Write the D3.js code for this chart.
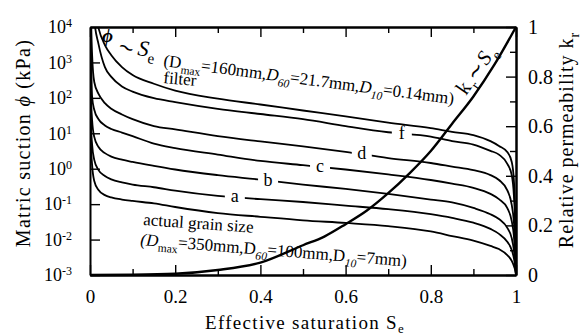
<!DOCTYPE html>
<html>
<head>
<meta charset="utf-8">
<script src="https://cdn.jsdelivr.net/npm/d3@7"></script>
<style>
  body { margin: 0; background: #fff; }
</style>
</head>
<body>
<div id="container"></div>
<script>
const width = 583;
const height = 336;
const plotLeft = 90, plotRight = 516, plotTop = 27, plotBottom = 275;
const serif = "'Liberation Serif', 'Times New Roman', Times, serif";

// effective saturation grid shared by the suction curves
const seGrid = [0.0005, 0.002, 0.005, 0.01, 0.02, 0.035, 0.05, 0.075, 0.1, 0.15, 0.2, 0.3, 0.4, 0.5, 0.6, 0.7, 0.8, 0.85, 0.9, 0.94, 0.96, 0.98, 0.99, 0.995, 0.998, 1.0];

// matric suction (kPa)
const phiFilter = [1e10, 1e8, 1.6e6, 4.0e4, 9.3e3, 3.1e3, 1.6e3, 740, 440, 250, 160, 95, 65, 44, 30, 20, 14, 11, 8.9, 6.0, 4.4, 2.9, 1.55, 0.48, 0.049, 0.001];
const phiF = [1e9, 1e7, 1.1e5, 1.6e4, 3.3e3, 740, 390, 210, 150, 98, 76, 49, 35, 25, 16, 10.7, 8.1, 6.0, 4.8, 3.2, 2.5, 1.35, 0.66, 0.18, 0.026, 0.001];
const phiD = [1e7, 5.8e4, 1.6e3, 280, 130, 71, 49, 34, 25, 16, 12.9, 8.3, 5.9, 4.3, 3.0, 2.0, 1.45, 1.15, 0.91, 0.66, 0.48, 0.24, 0.095, 0.032, 0.0071, 0.001];
const phiC = [1e6, 8.3e3, 105, 46, 25, 16.6, 13.2, 10.5, 8.3, 5.1, 3.8, 2.5, 1.66, 1.26, 0.95, 0.69, 0.48, 0.38, 0.29, 0.195, 0.138, 0.076, 0.033, 0.0126, 0.0036, 0.001];
const phiB = [1e5, 166, 23, 7.9, 4.1, 2.75, 2.2, 1.8, 1.55, 1.2, 0.95, 0.66, 0.49, 0.355, 0.27, 0.195, 0.135, 0.112, 0.078, 0.052, 0.038, 0.021, 0.011, 0.0051, 0.0023, 0.001];
const phiA = [1e5, 23, 4.7, 1.78, 0.91, 0.62, 0.50, 0.41, 0.355, 0.30, 0.24, 0.17, 0.138, 0.115, 0.091, 0.072, 0.052, 0.041, 0.030, 0.020, 0.0145, 0.0085, 0.0051, 0.003, 0.0018, 0.001];
const phiActual = [1e5, 6.5, 1.26, 0.45, 0.25, 0.18, 0.155, 0.135, 0.123, 0.105, 0.083, 0.056, 0.044, 0.035, 0.0295, 0.024, 0.017, 0.0126, 0.0093, 0.0066, 0.0054, 0.0036, 0.0025, 0.0018, 0.00138, 0.001];

// relative permeability curve
const seKr = [0, 0.1, 0.2, 0.3, 0.4, 0.5, 0.55, 0.6, 0.65, 0.7, 0.75, 0.8, 0.85, 0.9, 0.95, 1.0];
const kr = [0, 0.001, 0.005, 0.02, 0.05, 0.12, 0.155, 0.205, 0.26, 0.33, 0.41, 0.50, 0.61, 0.72, 0.85, 1.0];

// curve labels
const labelNames = ["f", "d", "c", "b", "a"];
const labelSe = [0.732, 0.638, 0.540, 0.418, 0.340];
const labelPhi = [9.8, 2.6, 1.12, 0.46, 0.155];

// ticks
const xTicks = [0, 0.2, 0.4, 0.6, 0.8, 1];
const xTickLabels = ["0", "0.2", "0.4", "0.6", "0.8", "1"];
const xMinor = [0.1, 0.3, 0.5, 0.7, 0.9];
const yTicks = [1e-3, 1e-2, 1e-1, 1e0, 1e1, 1e2, 1e3, 1e4];
const yTickExp = ["-3", "-2", "-1", "0", "1", "2", "3", "4"];
const krTicks = [0, 0.2, 0.4, 0.6, 0.8, 1];
const krTickLabels = ["0", "0.2", "0.4", "0.6", "0.8", "1"];
const krMinor = [0.1, 0.3, 0.5, 0.7, 0.9];

const svg = d3.select("#container")
  .append("svg")
  .attr("width", width)
  .attr("height", height)
  .style("font-family", serif);

const x = d3.scaleLinear().domain([0, 1]).range([plotLeft, plotRight]);
const y = d3.scaleLog().domain([1e-3, 1e4]).range([plotBottom, plotTop]);
const yk = d3.scaleLinear().domain([0, 1]).range([plotBottom, plotTop]);

svg.append("clipPath").attr("id", "plot")
  .append("rect")
  .attr("x", plotLeft).attr("y", plotTop)
  .attr("width", plotRight - plotLeft).attr("height", plotBottom - plotTop);

// suction curves
const curves = [phiFilter, phiF, phiD, phiC, phiB, phiA, phiActual];
const line = d3.line()
  .x(d => x(d[0]))
  .y(d => y(d[1]))
  .curve(d3.curveMonotoneX);

svg.append("g").attr("clip-path", "url(#plot)")
  .selectAll("path")
  .data(curves)
  .enter()
  .append("path")
  .attr("d", c => line(seGrid.map((s, i) => [s, c[i]])))
  .attr("fill", "none")
  .attr("stroke", "#000")
  .attr("stroke-width", 1.8);

// curve labels with a gap in the line
const lab = svg.append("g").selectAll("g")
  .data(labelNames)
  .enter()
  .append("g")
  .attr("transform", (d, i) => `translate(${x(labelSe[i])},${y(labelPhi[i])})`);
lab.append("rect")
  .attr("x", -10).attr("y", -5)
  .attr("width", 20).attr("height", 10)
  .attr("fill", "#fff");
lab.append("text")
  .attr("text-anchor", "middle")
  .attr("y", 5)
  .style("font-family", serif)
  .style("font-size", "18px")
  .text(d => d);

// kr curve
const krLine = d3.line()
  .x((d, i) => x(seKr[i]))
  .y(d => yk(d))
  .curve(d3.curveMonotoneX);
svg.append("path")
  .attr("d", krLine(kr))
  .attr("fill", "none")
  .attr("stroke", "#000")
  .attr("stroke-width", 2.4);

// axes
function styleAxis(g, fs) {
  g.attr("font-family", serif);
  g.select(".domain").attr("stroke-width", 2);
  g.selectAll(".tick line").attr("stroke-width", 1.4);
  g.selectAll(".tick text").style("font-size", fs + "px").style("font-family", serif);
}

svg.append("g")
  .attr("transform", `translate(0,${plotBottom})`)
  .call(d3.axisBottom(x).tickValues(xMinor).tickSize(-6).tickSizeOuter(0).tickFormat(""))
  .call(g => styleAxis(g, 19));
svg.append("g")
  .attr("transform", `translate(0,${plotBottom})`)
  .call(d3.axisBottom(x).tickValues(xTicks).tickSize(-10).tickSizeOuter(0).tickPadding(15)
    .tickFormat((d, i) => xTickLabels[i]))
  .call(g => styleAxis(g, 19));

svg.append("g")
  .attr("transform", `translate(0,${plotTop})`)
  .call(d3.axisTop(x).tickValues(xMinor).tickSize(-6).tickSizeOuter(0).tickFormat(""))
  .call(g => styleAxis(g, 19));
svg.append("g")
  .attr("transform", `translate(0,${plotTop})`)
  .call(d3.axisTop(x).tickValues(xTicks).tickSize(-10).tickSizeOuter(0).tickFormat(""))
  .call(g => styleAxis(g, 19));

const yAxis = svg.append("g")
  .attr("transform", `translate(${plotLeft},0)`)
  .call(d3.axisLeft(y).tickValues(yTicks).tickSize(-10).tickSizeOuter(0).tickPadding(18).tickFormat(""))
  .call(g => styleAxis(g, 18));
yAxis.selectAll(".tick text").each(function(d, i) {
  const t = d3.select(this);
  t.append("tspan").text("10");
  t.append("tspan").attr("dy", "-0.5em").style("font-size", "12px").text(yTickExp[i]);
});

svg.append("g")
  .attr("transform", `translate(${plotRight},0)`)
  .call(d3.axisRight(yk).tickValues(krMinor).tickSize(-6).tickSizeOuter(0).tickFormat(""))
  .call(g => styleAxis(g, 20));
svg.append("g")
  .attr("transform", `translate(${plotRight},0)`)
  .call(d3.axisRight(yk).tickValues(krTicks).tickSize(-10).tickSizeOuter(0).tickPadding(12)
    .tickFormat((d, i) => krTickLabels[i]))
  .call(g => styleAxis(g, 20));

// text with subscripts
function rich(t, parts, fs, subShift = 0.3) {
  let shift = 0;
  t.style("font-family", serif);
  parts.forEach(p => {
    const ts = t.append("tspan").text(p.t);
    const target = p.sub ? fs * subShift : 0;
    ts.attr("dy", target - shift);
    shift = target;
    if (p.sub) ts.style("font-size", (fs * 0.68) + "px");
    if (p.it) ts.style("font-style", "italic");
  });
}

// axis titles
const xt = svg.append("text")
  .attr("x", 305).attr("y", 329)
  .attr("text-anchor", "middle")
  .style("font-size", "19px").style("letter-spacing", "1.3px");
rich(xt, [{t: "Effective saturation  S"}, {t: "e", sub: true}], 19, 0.2);

const ylt = svg.append("text")
  .attr("transform", "translate(30,143) rotate(-90)")
  .attr("text-anchor", "middle")
  .style("font-size", "20px").style("letter-spacing", "1.3px");
rich(ylt, [{t: "Matric suction  "}, {t: "ϕ", it: true}, {t: "  (kPa)"}], 20);

const yrt = svg.append("text")
  .attr("transform", "translate(573,140) rotate(-90)")
  .attr("text-anchor", "middle")
  .style("font-size", "20px").style("letter-spacing", "1px");
rich(yrt, [{t: "Relative permeability  k"}, {t: "r", sub: true}], 20);

// annotations
svg.append("text")
  .attr("x", 102).attr("y", 42)
  .style("font-family", serif)
  .style("font-size", "19px").style("font-style", "italic").style("font-weight", "bold")
  .text("ϕ");
svg.append("text")
  .attr("transform", "translate(116,50) rotate(25)")
  .style("font-family", serif)
  .style("font-size", "20px")
  .text("∼");
const se1 = svg.append("text")
  .attr("transform", "translate(137,55) rotate(8)")
  .style("font-size", "22px");
rich(se1, [{t: "S", it: true}, {t: "e", sub: true}], 22);

const filt = svg.append("text")
  .attr("transform", "translate(163,66) rotate(7.5)")
  .style("font-size", "17px");
rich(filt, [
  {t: "(D"}, {t: "max", sub: true}, {t: "=160mm,"},
  {t: "D", it: true}, {t: "60", sub: true, it: true}, {t: "=21.7mm,"},
  {t: "D", it: true}, {t: "10", sub: true, it: true}, {t: "=0.14mm)"}
], 17);
svg.append("text")
  .attr("transform", "translate(163,83) rotate(5)")
  .style("font-family", serif)
  .style("font-size", "17px")
  .text("filter");

svg.append("text")
  .attr("transform", "translate(143,225) rotate(4)")
  .style("font-family", serif)
  .style("font-size", "17px")
  .text("actual grain size");
const act = svg.append("text")
  .attr("transform", "translate(140,245) rotate(4.6)")
  .style("font-size", "17px");
rich(act, [
  {t: "(D", it: true}, {t: "max", sub: true}, {t: "=350mm,D"}, {t: "60", sub: true, it: true},
  {t: "=100mm,D"}, {t: "10", sub: true, it: true}, {t: "=7mm)"}
], 17);

const krl = svg.append("text")
  .attr("transform", "translate(466,96) rotate(-55)")
  .style("font-size", "21px").style("letter-spacing", "1px");
rich(krl, [{t: "k"}, {t: "r", sub: true}, {t: "∼"}, {t: "S", it: true}, {t: "e", sub: true}], 21);
</script>
</body>
</html>
